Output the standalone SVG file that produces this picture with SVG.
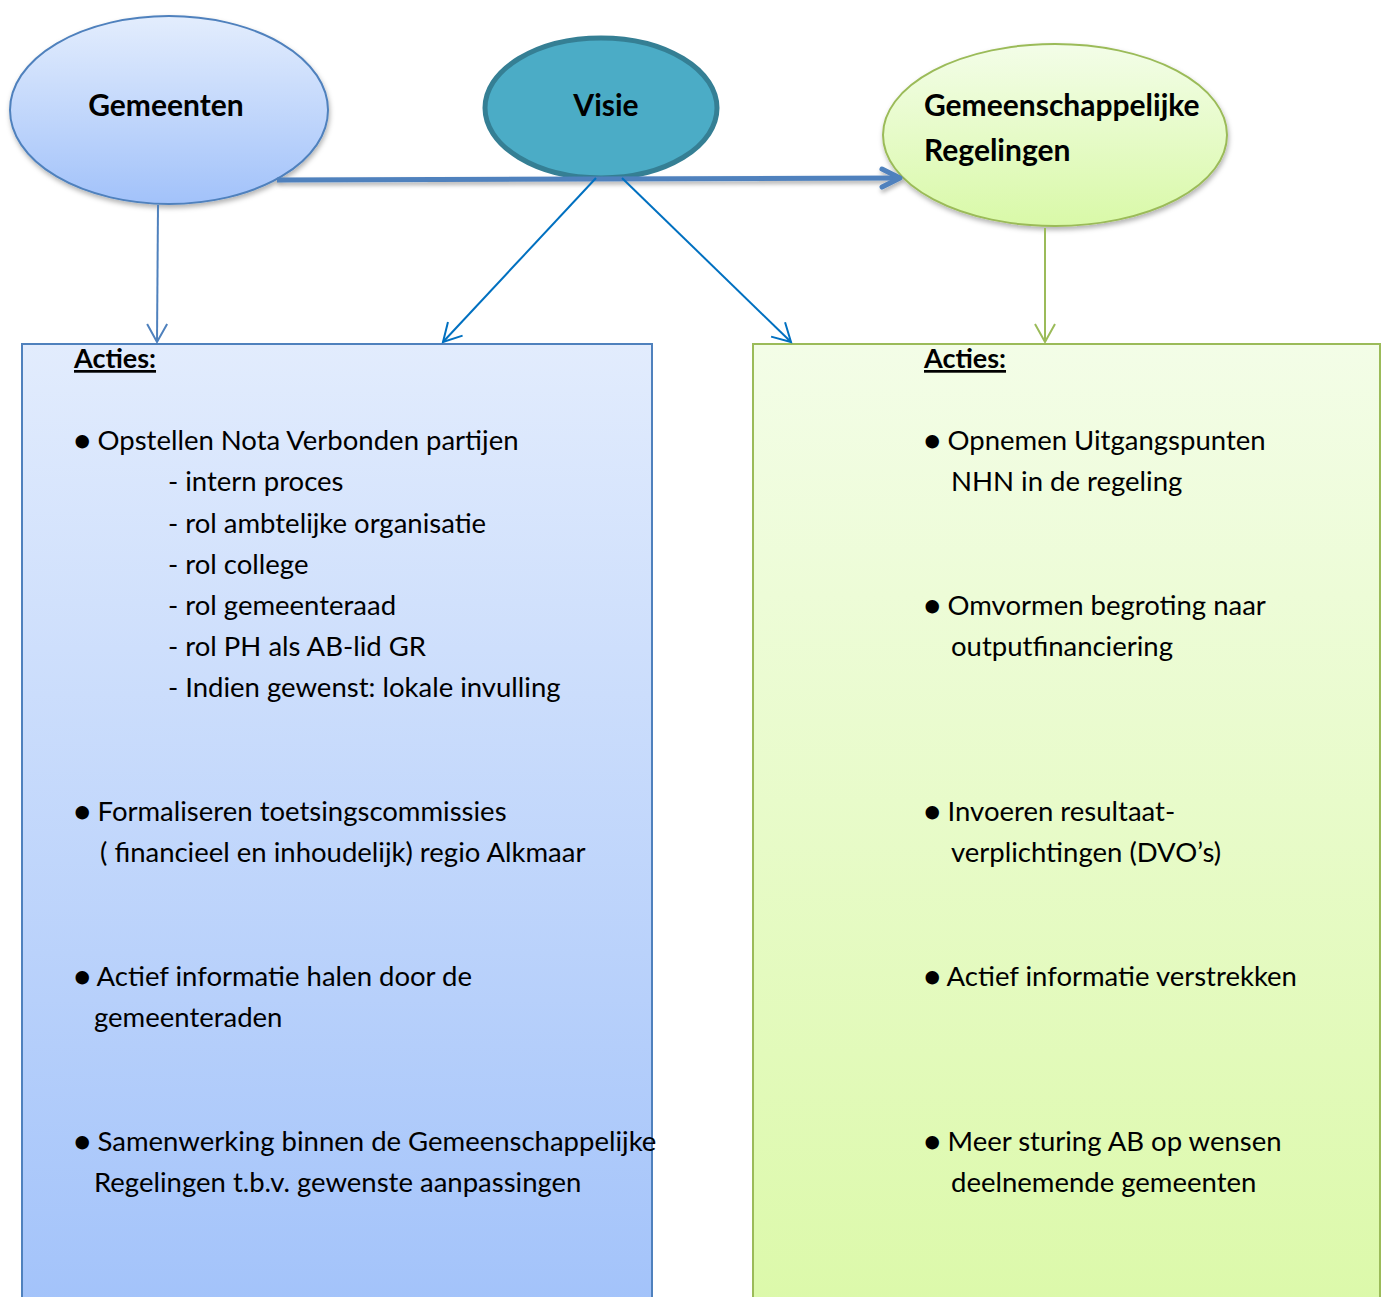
<svg xmlns="http://www.w3.org/2000/svg" width="1384" height="1297" viewBox="0 0 1384 1297">
<defs>
<linearGradient id="gBlue" x1="0" y1="0" x2="0" y2="1"><stop offset="0" stop-color="#e3edfd"/><stop offset="1" stop-color="#a2c2fa"/></linearGradient>
<linearGradient id="gGreen" x1="0" y1="0" x2="0" y2="1"><stop offset="0" stop-color="#f3fde8"/><stop offset="1" stop-color="#d9f9a8"/></linearGradient>
<linearGradient id="gBlueBox" x1="0" y1="0" x2="0" y2="1"><stop offset="0" stop-color="#e2ecfd"/><stop offset="1" stop-color="#a3c3fa"/></linearGradient>
<linearGradient id="gGreenBox" x1="0" y1="0" x2="0" y2="1"><stop offset="0" stop-color="#f3fde7"/><stop offset="1" stop-color="#dcf9aa"/></linearGradient>
<filter id="sh" x="-10%" y="-10%" width="125%" height="130%"><feDropShadow dx="1" dy="3" stdDeviation="2.5" flood-color="#000" flood-opacity="0.3"/></filter>
<filter id="shL" filterUnits="userSpaceOnUse" x="250" y="150" width="700" height="60"><feDropShadow dx="1" dy="3" stdDeviation="2" flood-color="#000" flood-opacity="0.3"/></filter>
<marker id="aBlue" viewBox="0 0 24 24" refX="20" refY="12" markerWidth="24" markerHeight="24" markerUnits="userSpaceOnUse" orient="auto"><path d="M2,2 L20,12 L2,22" fill="none" stroke="#4f81bd" stroke-width="2"/></marker>
<marker id="aBlue2" viewBox="0 0 24 24" refX="20" refY="12" markerWidth="24" markerHeight="24" markerUnits="userSpaceOnUse" orient="auto"><path d="M2,2 L20,12 L2,22" fill="none" stroke="#0070c0" stroke-width="2"/></marker>
<marker id="aGreen" viewBox="0 0 24 24" refX="20" refY="12" markerWidth="24" markerHeight="24" markerUnits="userSpaceOnUse" orient="auto"><path d="M2,2 L20,12 L2,22" fill="none" stroke="#9bbb59" stroke-width="2"/></marker>
<marker id="aThick" viewBox="0 0 30 30" refX="22" refY="15" markerWidth="30" markerHeight="30" markerUnits="userSpaceOnUse" orient="auto"><path d="M4,6 L22,15 L4,24" fill="none" stroke="#4f81bd" stroke-width="5" stroke-linecap="round" stroke-linejoin="round"/></marker>
</defs>
<style>
.t{font-family:"Lato","Open Sans",sans-serif;font-size:27.5px;fill:#000}
.b{font-family:"Lato","Open Sans",sans-serif;font-size:30px;font-weight:bold;fill:#000}
.h{font-family:"Lato","Open Sans",sans-serif;font-size:27px;font-weight:bold;text-decoration:underline;fill:#000}
</style>
<rect width="1384" height="1297" fill="#fff"/>

<g id="box-left">
<rect x="22" y="344" width="630" height="960" fill="url(#gBlueBox)" stroke="#4f81bd" stroke-width="2"/>
<text class="h" x="74" y="368">Acties:</text>
<text class="t" x="74" y="450">● Opstellen Nota Verbonden partijen</text>
<text class="t" x="168" y="491">- intern proces</text>
<text class="t" x="168" y="533">- rol ambtelijke organisatie</text>
<text class="t" x="168" y="574">- rol college</text>
<text class="t" x="168" y="615">- rol gemeenteraad</text>
<text class="t" x="168" y="656">- rol PH als AB-lid GR</text>
<text class="t" x="168" y="697">- Indien gewenst: lokale invulling</text>
<text class="t" x="74" y="821">● Formaliseren toetsingscommissies</text>
<text class="t" x="100" y="862">( financieel en inhoudelijk) regio Alkmaar</text>
<text class="t" x="74" y="986">● Actief informatie halen door de</text>
<text class="t" x="94" y="1027">gemeenteraden</text>
<text class="t" x="74" y="1151">● Samenwerking binnen de Gemeenschappelijke</text>
<text class="t" x="94" y="1192">Regelingen t.b.v. gewenste aanpassingen</text>
</g>

<g id="box-right">
<rect x="753" y="344" width="627" height="960" fill="url(#gGreenBox)" stroke="#9bbb59" stroke-width="2"/>
<text class="h" x="924" y="368">Acties:</text>
<text class="t" x="924" y="450">● Opnemen Uitgangspunten</text>
<text class="t" x="951" y="491">NHN in de regeling</text>
<text class="t" x="924" y="615">● Omvormen begroting naar</text>
<text class="t" x="951" y="656">outputfinanciering</text>
<text class="t" x="924" y="821">● Invoeren resultaat-</text>
<text class="t" x="951" y="862">verplichtingen (DVO’s)</text>
<text class="t" x="924" y="986">● Actief informatie verstrekken</text>
<text class="t" x="924" y="1151">● Meer sturing AB op wensen</text>
<text class="t" x="951" y="1192">deelnemende gemeenten</text>
</g>

<g id="node-gemeenten">
<ellipse cx="169" cy="110" rx="159" ry="94" fill="url(#gBlue)" stroke="#4f81bd" stroke-width="2" filter="url(#sh)"/>
<text class="b" x="166" y="116" text-anchor="middle">Gemeenten</text>
</g>

<g id="node-gr">
<ellipse cx="1055" cy="135" rx="172" ry="91" fill="url(#gGreen)" stroke="#9bbb59" stroke-width="2" filter="url(#sh)"/>
<text class="b" x="924" y="116">Gemeenschappelijke</text>
<text class="b" x="924" y="161">Regelingen</text>
</g>

<g id="node-visie">
<ellipse cx="601" cy="108" rx="116" ry="70" fill="#4bacc6" stroke="#357f94" stroke-width="5"/>
<text class="b" x="606" y="116" text-anchor="middle">Visie</text>
</g>

<g id="connectors">
<line x1="277" y1="180" x2="900" y2="178" stroke="#4f81bd" stroke-width="5" marker-end="url(#aThick)" filter="url(#shL)"/>
<line x1="158" y1="205" x2="157" y2="342" stroke="#4f81bd" stroke-width="2" marker-end="url(#aBlue)"/>
<line x1="596" y1="178" x2="443" y2="342" stroke="#0070c0" stroke-width="2" marker-end="url(#aBlue2)"/>
<line x1="622" y1="178" x2="791" y2="342" stroke="#0070c0" stroke-width="2" marker-end="url(#aBlue2)"/>
<line x1="1045" y1="228" x2="1045" y2="342" stroke="#9bbb59" stroke-width="2" marker-end="url(#aGreen)"/>
</g>
</svg>
